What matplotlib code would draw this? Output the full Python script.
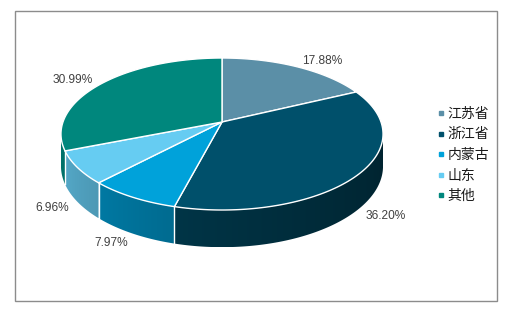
import numpy as np
import matplotlib
matplotlib.use('Agg')
import matplotlib.pyplot as plt
from matplotlib.patches import Polygon, Rectangle
from matplotlib.lines import Line2D

plt.rcParams['font.family'] = ['Liberation Sans', 'DejaVu Sans']

# data
regions = ['江苏省', '浙江省', '内蒙古', '山东', '其他']
shares = [17.88, 36.20, 7.97, 6.96, 30.99]
labels = ['17.88%', '36.20%', '7.97%', '6.96%', '30.99%']
colors = ['#5B8FA7', '#00506B', '#00A2DA', '#66CCF2', '#00877D']

# pie geometry (figure pixels), simple perspective
cx, cy = 222, 122
A, B = 159, 74.1
k = 0.158          # perspective strength
D = 31.3           # thickness
vis_lo = 180 + np.degrees(np.arcsin(k))
vis_hi = 360 - np.degrees(np.arcsin(k))


def proj(theta, r=1.0, drop=0.0):
    t = np.radians(theta)
    u = r * np.cos(t)
    v = r * np.sin(t)
    w = 1 + k * v
    return cx + A * u / w, cy - B * v / w + drop * D / w


def shade_factor(theta):
    return 0.45 + 0.42 * np.clip((vis_hi - theta) / (vis_hi - vis_lo), 0, 1) ** 1.3


fig = plt.figure(figsize=(5.19, 3.2), dpi=100)
ax = fig.add_axes([0, 0, 1, 1])
ax.set_xlim(0, 519)
ax.set_ylim(320, 0)
ax.axis('off')

ax.add_patch(Rectangle((15, 11), 482, 290, fill=False, edgecolor='#8c8c8c', lw=1))

# slice angles, clockwise from 12 o'clock
fracs = np.array(shares) / sum(shares)
starts = 90 - 360 * np.concatenate([[0], np.cumsum(fracs)[:-1]])
ends = starts - 360 * fracs

# front arc, theta -> x lookup for the wall gradient
arc_th = np.linspace(vis_lo, vis_hi, 400)
arc_x = np.array([proj(t)[0] for t in arc_th])

# side walls
for s, e, c in zip(starts, ends, colors):
    th = np.linspace(s, e, 400) % 360
    th = th[(th >= vis_lo) & (th <= vis_hi)]
    if len(th) < 2:
        continue
    th = np.sort(th)
    top = [proj(t) for t in th]
    bot = [proj(t, drop=1) for t in th[::-1]]
    poly = Polygon(top + bot, closed=True, facecolor='none', edgecolor='none')
    ax.add_patch(poly)
    xs = np.linspace(min(p[0] for p in top), max(p[0] for p in top), 200)
    tx = np.interp(xs, arc_x, arc_th)
    rgb = np.array(matplotlib.colors.to_rgb(c))
    img = shade_factor(tx)[None, :, None] * rgb[None, None, :]
    ys = [p[1] for p in top + bot]
    im = ax.imshow(img, extent=(xs[0], xs[-1], max(ys), min(ys)), aspect='auto',
                   interpolation='bilinear', zorder=1)
    im.set_clip_path(poly)

for s in starts:
    m = s % 360
    if vis_lo <= m <= vis_hi:
        x1, y1 = proj(m)
        x2, y2 = proj(m, drop=1)
        ax.plot([x1, x2], [y1, y2], color='white', lw=1, zorder=2)

# top face
for s, e, c in zip(starts, ends, colors):
    th = np.linspace(s, e, 200)
    pts = [(cx, cy)] + [proj(t) for t in th]
    ax.add_patch(Polygon(pts, closed=True, facecolor=c, edgecolor='white', lw=1, zorder=3))

# percent labels, just outside the rim
for s, e, lab in zip(starts, ends, labels):
    m = (s + e) / 2
    cm, sm = np.cos(np.radians(m)), np.sin(np.radians(m))
    x, y = proj(m, drop=1 if sm < 0 else 0)
    x += 10 * cm
    y -= 9 * sm - 1.5
    ax.text(x, y, lab, ha='left' if cm > 0 else 'right', va='center',
            fontsize=8.6, color='#404040')

ax.set_xlim(0, 519)
ax.set_ylim(320, 0)

handles = [Line2D([], [], marker='s', color=c, linestyle='None', markersize=3.2)
           for c in colors]
fig.legend(handles, regions, loc='center left', bbox_to_anchor=(430 / 519, 1 - 155 / 320),
           frameon=False, handlelength=0.6, handletextpad=0.15, labelspacing=0.47,
           prop={'family': ['Noto Sans CJK SC', 'DejaVu Sans'], 'size': 10},
           labelcolor='#1a1a1a', borderpad=0)

fig.savefig('out.png', dpi=100)
